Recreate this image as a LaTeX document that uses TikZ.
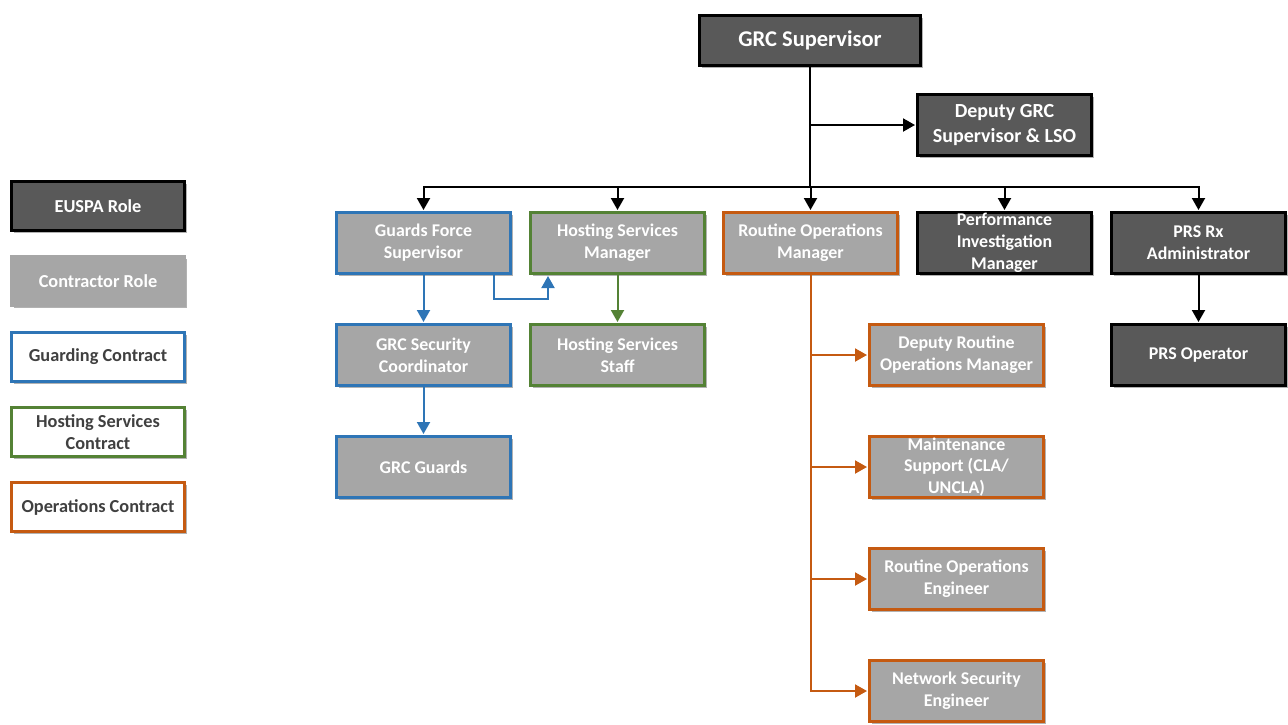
\documentclass[tikz,border=0pt]{standalone}
\usepackage{fontspec}
\setmainfont{Carlito}
\usetikzlibrary{arrows.meta,shadows}
\definecolor{darkfill}{HTML}{595959}
\definecolor{grayfill}{HTML}{A6A6A6}
\definecolor{guardblue}{HTML}{2E75B6}
\definecolor{hostgreen}{HTML}{548235}
\definecolor{opsorange}{HTML}{C55A11}
\definecolor{legendtext}{HTML}{404040}
\newcommand{\boxfont}{\bfseries\fontsize{17.9}{21.8}\selectfont}
\newcommand{\legfont}{\bfseries\fontsize{18.3}{22}\selectfont}
\tikzset{
  role/.style={draw, line width=3pt, minimum width=174pt, minimum height=61pt,
    align=center, font=\boxfont, text=white, inner sep=0pt,
    drop shadow={shadow xshift=2.5pt, shadow yshift=-2.5pt, opacity=0.3, fill=black}},
  euspa/.style={role, fill=darkfill, draw=black},
  contr/.style={role, fill=grayfill, draw=grayfill},
  guard/.style={contr, draw=guardblue},
  host/.style={contr, draw=hostgreen},
  ops/.style={contr, draw=opsorange},
  legbox/.style={role, minimum width=173pt, minimum height=49pt, font=\legfont},
  link/.style={line width=2pt, shorten >=1pt, -{Triangle[length=12pt,width=13pt]}},
  guardlink/.style={link, draw=guardblue},
  hostlink/.style={link, draw=hostgreen},
  opslink/.style={link, draw=opsorange}
}
\begin{document}
\begin{tikzpicture}[x=1pt,y=-1pt]
\useasboundingbox (0,0) rectangle (1288,724);

% legend
\node[legbox, fill=darkfill, draw=black] (lgE) at (98,206) {EUSPA Role};
\node[legbox, fill=grayfill, draw=grayfill] (lgC) at (98,281) {Contractor Role};
\node[legbox, fill=white, draw=guardblue, text=legendtext] (lgG) at (98,357) {Guarding Contract};
\node[legbox, fill=white, draw=hostgreen, text=legendtext] (lgH) at (98,432) {Hosting Services\\Contract};
\node[legbox, fill=white, draw=opsorange, text=legendtext] (lgO) at (98,507) {Operations Contract};

% top of the organisation
\node[euspa, minimum width=221pt, minimum height=50pt,
      font=\bfseries\fontsize{22.5}{24}\selectfont] (sup) at (810,40.5) {GRC Supervisor};
\node[euspa, font=\bfseries\fontsize{20}{25}\selectfont] (dep) at (1004.5,125) {Deputy GRC\\Supervisor \& LSO};

% first row
\node[guard] (gfs) at (423.5,243) {Guards Force\\Supervisor};
\node[host]  (hsm) at (617.5,243) {Hosting Services\\Manager};
\node[ops]   (rom) at (810.5,243) {Routine Operations\\Manager};
\node[euspa] (pim) at (1004.5,243) {Performance\\Investigation\\Manager};
\node[euspa] (prs) at (1198.5,243) {PRS Rx\\Administrator};

% guarding branch
\node[guard] (gsc) at (423.5,355) {GRC Security\\Coordinator};
\node[guard] (grd) at (423.5,467) {GRC Guards};

% hosting branch
\node[host] (hss) at (617.5,355) {Hosting Services\\Staff};

% operations branch
\node[ops] (drom) at (956.5,355) {Deputy Routine\\Operations Manager};
\node[ops] (mnt)  at (956.5,467) {Maintenance\\Support (CLA/\\UNCLA)};
\node[ops] (roe)  at (956.5,579) {Routine Operations\\Engineer};
\node[ops] (nse)  at (956.5,691) {Network Security\\Engineer};

% PRS branch
\node[euspa] (pro) at (1198.5,355) {PRS Operator};

% connectors from the supervisor
\coordinate (bus) at (810,187);
\draw[link] (sup.south |- dep.west) -- (dep.west);
\foreach \c in {gfs,hsm,rom,pim,prs}
  \draw[link] (sup.south) -- (sup.south |- bus) -| (\c.north);

% guarding connectors
\draw[guardlink] (gfs.south) -- (gsc.north);
\draw[guardlink] (gsc.south) -- (grd.north);
\draw[guardlink] ([xshift=70.5pt]gfs.south) -- ++(0,24) -| ([xshift=-69.5pt]hsm.south);

% hosting connector
\draw[hostlink] (hsm.south) -- (hss.north);

% operations connectors
\foreach \c in {drom,mnt,roe,nse}
  \draw[opslink] (rom.south) |- (\c.west);

% PRS connector
\draw[link] (prs.south) -- (pro.north);
\end{tikzpicture}
\end{document}
